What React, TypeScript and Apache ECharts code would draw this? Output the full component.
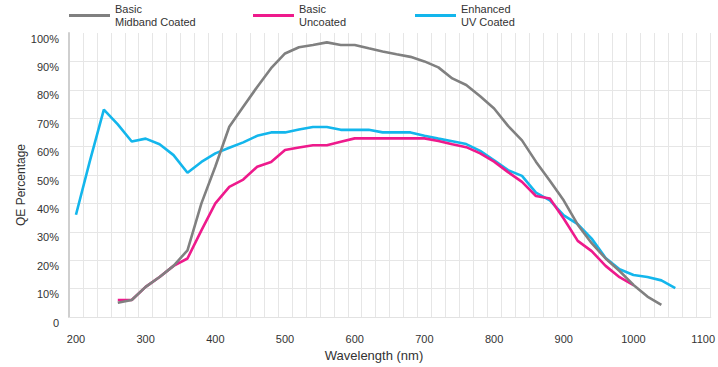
import React, { useEffect, useRef } from "react";
import * as echarts from "echarts";

const seriesNames = ["Basic\nMidband Coated", "Basic\nUncoated", "Enhanced\nUV Coated"];
const seriesColors = ["#808080", "#ee1a8c", "#13b6ec"];

const midbandNm = [260, 280, 300, 320, 340, 360, 380, 400, 420, 440, 460, 480, 500, 520, 540, 560, 580, 600, 620, 640, 660, 680, 700, 720, 740, 760, 780, 800, 820, 840, 860, 880, 900, 920, 940, 960, 980, 1000, 1020, 1040];
const midbandQE = [5, 6, 10.6, 14.1, 18, 23.5, 40, 53, 67, 74, 81, 87.6, 92.8, 95, 95.8, 96.7, 95.8, 95.8, 94.6, 93.5, 92.5, 91.6, 90, 87.9, 84, 81.7, 77.7, 73.4, 67.3, 62.2, 54.7, 48, 41, 32.5, 26, 20.6, 16.2, 11.3, 7.2, 4.3];

const uncoatedNm = [260, 280, 300, 320, 340, 360, 380, 400, 420, 440, 460, 480, 500, 520, 540, 560, 580, 600, 620, 640, 660, 680, 700, 720, 740, 760, 780, 800, 820, 840, 860, 880, 900, 920, 940, 960, 980, 1000];
const uncoatedQE = [6, 6, 10.6, 14.1, 18, 20.6, 30.5, 40, 45.8, 48.4, 52.9, 54.6, 58.8, 59.7, 60.5, 60.5, 61.7, 62.9, 62.9, 62.9, 62.9, 62.9, 62.9, 62, 60.8, 59.8, 57.6, 54.7, 51, 47.6, 42.6, 41.7, 34.6, 26.8, 23.2, 18, 14, 11.2];

const uvNm = [200, 220, 240, 260, 280, 300, 320, 340, 360, 380, 400, 420, 440, 460, 480, 500, 520, 540, 560, 580, 600, 620, 640, 660, 680, 700, 720, 740, 760, 780, 800, 820, 840, 860, 880, 900, 920, 940, 960, 980, 1000, 1020, 1040, 1060];
const uvQE = [36, 55, 73, 67.8, 61.8, 62.8, 60.8, 57, 50.8, 54.6, 57.6, 59.6, 61.5, 63.8, 65, 65, 66, 66.9, 66.9, 65.9, 65.9, 65.9, 65, 65, 65, 63.8, 62.8, 61.9, 60.9, 58.5, 55.2, 51.7, 49.7, 43.8, 41.1, 35.8, 32.7, 27.6, 20.8, 16.8, 14.8, 14.1, 12.9, 10.2];

const xLabelValues = [200, 300, 400, 500, 600, 700, 800, 900, 1000, 1100];
const xAxisTitle = "Wavelength (nm)";
const yAxisTitle = "QE Percentage";

const FONT = "'Liberation Sans', Arial, sans-serif";

export default function App() {
  const ref = useRef<HTMLDivElement>(null);

  useEffect(() => {
    if (!ref.current) return;
    const chart = echarts.init(ref.current, undefined, { renderer: "svg" });

    const pairs = (xs: number[], ys: number[]) => xs.map((x, i) => [x, ys[i]]);
    const legendLefts = [69, 253, 415];

    const option: any = {
      animation: false,
      backgroundColor: "#ffffff",
      textStyle: { fontFamily: FONT },
      grid: { left: 69, right: 0, top: 33, bottom: 50 },
      legend: seriesNames.map((name, i) => ({
        data: [name],
        left: legendLefts[i],
        top: -3,
        padding: 0,
        icon: "rect",
        itemWidth: 41,
        itemHeight: 3,
        itemGap: 0,
        selectedMode: false,
        textStyle: {
          fontFamily: FONT,
          fontSize: 11,
          color: "#333333",
          lineHeight: 13.5,
          padding: [10, 0, 0, 0],
        },
      })),
      xAxis: {
        type: "value",
        min: 190,
        max: 1111,
        interval: 20,
        axisLine: { show: true, lineStyle: { color: "#e2e2e2", width: 1 } },
        axisTick: { show: false },
        splitLine: { show: true, showMaxLine: false, lineStyle: { color: "#e6e6e6", width: 1 } },
        axisLabel: {
          customValues: xLabelValues,
          margin: 16,
          fontFamily: FONT,
          fontSize: 11,
          color: "#333333",
          align: "center",
          formatter: (v: number) => String(v),
        },
      },
      yAxis: {
        type: "value",
        min: 0,
        max: 100,
        interval: 10,
        axisLine: { show: true, lineStyle: { color: "#cfcfcf", width: 2 } },
        axisTick: { show: false },
        splitLine: { show: true, showMaxLine: false, lineStyle: { color: "#e6e6e6", width: 1 } },
        axisLabel: {
          margin: 10,
          fontFamily: FONT,
          fontSize: 11,
          color: "#333333",
          verticalAlign: "top",
          formatter: (v: number) => (v === 0 ? "0" : v + "%"),
        },
      },
      graphic: [
        {
          type: "text",
          x: 374,
          y: 355,
          style: {
            text: xAxisTitle,
            font: `13px ${FONT}`,
            fill: "#333333",
            align: "center",
            verticalAlign: "middle",
          },
        },
        {
          type: "text",
          x: 21,
          y: 185,
          rotation: Math.PI / 2,
          style: {
            text: yAxisTitle,
            font: `12px ${FONT}`,
            fill: "#333333",
            align: "center",
            verticalAlign: "middle",
          },
        },
      ],
      series: [
        {
          name: seriesNames[2],
          type: "line",
          data: pairs(uvNm, uvQE),
          showSymbol: false,
          symbol: "none",
          lineStyle: { color: seriesColors[2], width: 2.6 },
          itemStyle: { color: seriesColors[2] },
          z: 2,
        },
        {
          name: seriesNames[1],
          type: "line",
          data: pairs(uncoatedNm, uncoatedQE),
          showSymbol: false,
          symbol: "none",
          lineStyle: { color: seriesColors[1], width: 2.6 },
          itemStyle: { color: seriesColors[1] },
          z: 3,
        },
        {
          name: seriesNames[0],
          type: "line",
          data: pairs(midbandNm, midbandQE),
          showSymbol: false,
          symbol: "none",
          lineStyle: { color: seriesColors[0], width: 2.6 },
          itemStyle: { color: seriesColors[0] },
          z: 4,
        },
      ],
    };

    chart.setOption(option);
    return () => chart.dispose();
  }, []);

  return (
    <div
      ref={ref}
      style={{ position: "absolute", left: 0, top: 0, width: 718, height: 367 }}
    />
  );
}
